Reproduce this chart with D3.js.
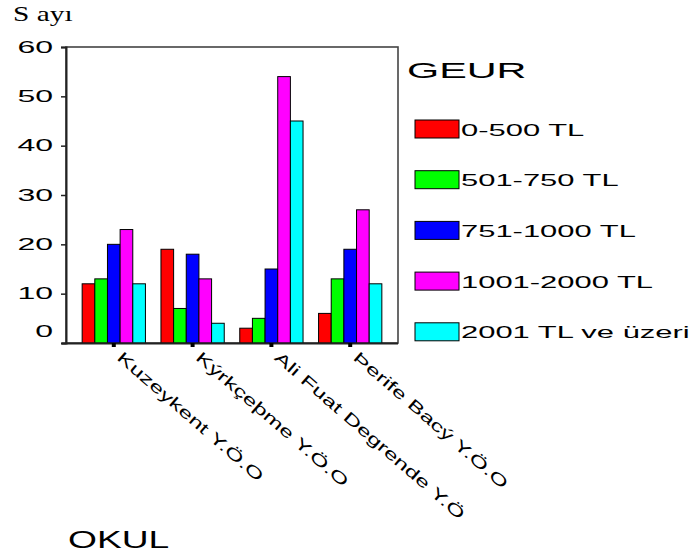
<!DOCTYPE html>
<html>
<head>
<meta charset="utf-8">
<script src="https://cdn.jsdelivr.net/npm/d3@7"></script>
<style>
  html, body { margin: 0; padding: 0; background: #fff; }
  svg { display: block; }
  text { font-family: "Liberation Sans", Arial, sans-serif; fill: #000; }
  text.serif { font-family: "Liberation Serif", "DejaVu Serif", "Times New Roman", serif; }
</style>
</head>
<body>
<svg id="chart" width="691" height="559"></svg>
<script>
const categories = ["Kuzeykent Y.Ö.O", "Kýrkçeþme Y.Ö.O", "Ali Fuat Degrende Y.Ö", "Þerife Bacý Y.Ö.O"];
const seriesNames = ["0-500 TL", "501-750 TL", "751-1000 TL", "1001-2000 TL", "2001 TL ve üzeri"];
const seriesColors = ["#ff0000", "#00ff00", "#0000ff", "#ff00ff", "#00ffff"];
const s0_500 = [12, 19, 3, 6];
const s501_750 = [13, 7, 5, 13];
const s751_1000 = [20, 18, 15, 19];
const s1001_2000 = [23, 13, 54, 27];
const s2001 = [12, 4, 45, 12];
const yTicks = [0, 10, 20, 30, 40, 50, 60];
const yTitle = "S ayı";
const xTitle = "OKUL";
const legendTitle = "GEUR";

const seriesValues = [s0_500, s501_750, s751_1000, s1001_2000, s2001];

const svg = d3.select("#chart");
const plot = { left: 66, right: 398, top: 47, bottom: 343 };

// horizontal glyph stretch: position through transform, then scale x
function place(sel, tx, ty, rot, sx) {
  sel.attr("x", 0).attr("y", 0)
    .attr("transform", (d, i) => {
      const X = typeof tx === "function" ? tx(d, i) : tx;
      const Y = typeof ty === "function" ? ty(d, i) : ty;
      return `translate(${X},${Y})` + (rot ? ` rotate(${rot})` : "") + ` scale(${sx},1)`;
    });
}

const x0 = d3.scaleBand().domain(categories).range([plot.left, plot.right])
  .paddingInner(0.197).paddingOuter(0.205);
const x1 = d3.scaleBand().domain(d3.range(seriesNames.length)).range([0, x0.bandwidth()]).padding(0);
const y = d3.scaleLinear().domain([0, 60]).range([plot.bottom, plot.top]);

// frame
svg.append("rect")
  .attr("x", plot.left).attr("y", plot.top)
  .attr("width", plot.right - plot.left).attr("height", plot.bottom - plot.top)
  .attr("fill", "none").attr("stroke", "#444").attr("stroke-width", 1.6);

// bars
const groups = svg.append("g").selectAll("g").data(categories).join("g")
  .attr("transform", d => `translate(${x0(d)},0)`);
groups.selectAll("rect")
  .data((c, ci) => seriesValues.map((vals, si) => ({ si, v: vals[ci] })))
  .join("rect")
  .attr("x", d => x1(d.si))
  .attr("y", d => y(d.v))
  .attr("width", x1.bandwidth())
  .attr("height", d => y(0) - y(d.v))
  .attr("fill", d => seriesColors[d.si])
  .attr("stroke", "#000").attr("stroke-width", 1);

// y axis
const yAxis = d3.axisLeft(y).tickValues(yTicks).tickSize(5).tickPadding(13);
const yg = svg.append("g").attr("transform", `translate(${plot.left},0)`).call(yAxis);
yg.select(".domain").attr("stroke", "#222").attr("stroke-width", 2);
yg.selectAll(".tick line").attr("stroke", "#222").attr("stroke-width", 1.5);
yg.selectAll(".tick text")
  .attr("font-size", 16).attr("font-family", "Liberation Sans, Arial, sans-serif")
  .attr("dy", d => d === 0 ? "-0.4em" : "0.32em")
  .call(place, -13, 0, 0, 2.0);

// x axis
const xAxis = d3.axisBottom(x0).tickSize(4).tickFormat("");
const xg = svg.append("g").attr("transform", `translate(0,${plot.bottom})`).call(xAxis);
xg.select(".domain").attr("stroke", "#222").attr("stroke-width", 2)
  .attr("d", `M${plot.left - 4},0.5H${plot.right}`);
xg.selectAll(".tick line").attr("stroke", "#000").attr("stroke-width", 4);

// rotated category labels
svg.append("g").selectAll("text").data(categories).join("text")
  .attr("dy", "0.75em")
  .attr("font-size", 16)
  .text(d => d)
  .call(place, d => x0(d) + x0.bandwidth() / 2 + 10, 350, 41, 1.55);

// titles
svg.append("text").attr("class", "serif")
  .attr("font-size", 21).text(yTitle).call(place, 13, 21, 0, 1.4);

svg.append("text")
  .attr("font-size", 24).text(xTitle).call(place, 68, 548, 0, 1.55);

// legend
svg.append("text")
  .attr("font-size", 22).text(legendTitle).call(place, 407, 78, 0, 1.88);

const leg = svg.append("g").selectAll("g").data(seriesNames).join("g")
  .attr("transform", (d, i) => `translate(415,${120 + i * 50.7})`);
leg.append("rect").attr("width", 44).attr("height", 18)
  .attr("fill", (d, i) => seriesColors[i]).attr("stroke", "#000").attr("stroke-width", 1);
leg.append("text")
  .attr("font-size", 17).text(d => d)
  .call(place, 46, 15.5, 0, 1.82);
</script>
</body>
</html>
